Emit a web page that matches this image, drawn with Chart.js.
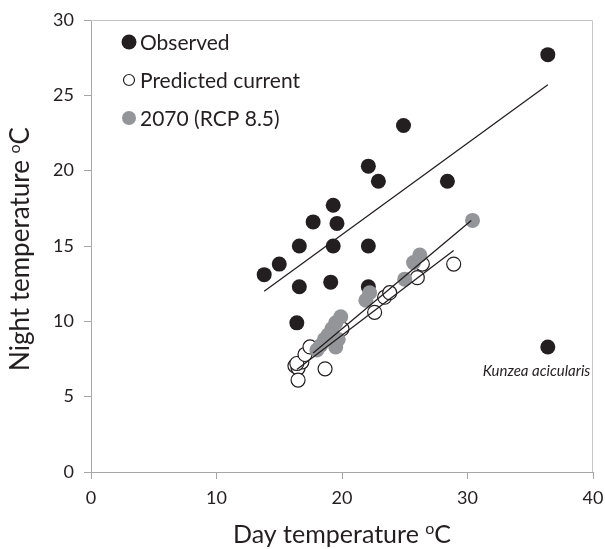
<!DOCTYPE html>
<html>
<head>
<meta charset="utf-8">
<script src="https://cdn.jsdelivr.net/npm/chart.js@4/dist/chart.umd.min.js"></script>
<style>
  body { margin: 0; background: #fff; }
  canvas { display: block; }
</style>
</head>
<body>
<canvas id="plots" width="605" height="549"></canvas>
<script>
// values
const seriesNames = ["Observed", "Predicted current", "2070 (RCP 8.5)"]

const dayObserved   = [13.8, 15.0, 16.6, 16.6, 16.4, 17.7, 19.3, 19.6, 19.3, 19.1, 22.1, 22.9, 22.1, 22.1, 24.9, 28.4, 36.4, 36.4]
const nightObserved = [13.1, 13.8, 15.0, 12.3,  9.9, 16.6, 17.7, 16.5, 15.0, 12.6, 20.3, 19.3, 15.0, 12.3, 23.0, 19.3, 27.7,  8.3]

const dayPredicted   = [16.25, 16.5, 16.8, 16.5, 16.4, 17.05, 17.45, 18.65, 20.0, 22.6, 23.4, 23.8, 26.0, 26.4, 28.9]
const nightPredicted = [ 7.05,  6.9,  7.3,  6.1,  7.2,  7.8,   8.3,   6.85,  9.5, 10.6, 11.6, 11.9, 12.9, 13.8, 13.8]

const day2070   = [18.0, 18.3, 18.6, 18.9, 19.2, 19.5, 19.9, 19.5, 19.7, 21.9, 22.2, 25.0, 25.7, 26.2, 30.4]
const night2070 = [ 8.1,  8.4,  8.8,  9.1,  9.5,  9.9, 10.3,  8.3,  8.8, 11.4, 11.9, 12.8, 13.9, 14.4, 16.7]

// trend line end points
const trendObsDay = [13.8, 36.4]
const trendObsNight = [12.0, 25.7]
const trendPredDay = [16.4, 28.9]
const trendPredNight = [6.8, 14.7]
const trend2070Day = [17.7, 30.3]
const trend2070Night = [7.9, 16.7]

const xTicks = [0, 10, 20, 30, 40]
const yTicks = [0, 5, 10, 15, 20, 25, 30]

const outlierName = "Kunzea acicularis"
const outlierAt = { x: 35.5, y: 6.4 }

const ink = '#231f20'
const grey = '#939598'
const axisGrey = '#a6a6a6'

function pts(xs, ys) {
  return xs.map((x, i) => ({ x: x, y: ys[i] }))
}

function trend(xs, ys) {
  return {
    data: pts(xs, ys),
    showLine: true,
    borderColor: ink,
    borderWidth: 1.3,
    pointRadius: 0,
    order: 0,
    isTrend: true
  }
}

// draws text with a raised small "o" before the final C
function supText(ctx, before, sup, after, cx, cy, size) {
  ctx.font = size + 'px Lato'
  const w1 = ctx.measureText(before).width
  const w3 = ctx.measureText(after).width
  ctx.font = Math.round(size * 0.62) + 'px Lato'
  const w2 = ctx.measureText(sup).width
  let x = cx - (w1 + w2 + w3) / 2
  ctx.textAlign = 'left'
  ctx.textBaseline = 'alphabetic'
  ctx.font = size + 'px Lato'
  ctx.fillText(before, x, cy)
  x += w1
  ctx.font = Math.round(size * 0.62) + 'px Lato'
  ctx.fillText(sup, x, cy - size * 0.36)
  x += w2
  ctx.font = size + 'px Lato'
  ctx.fillText(after, x, cy)
}

const extras = {
  id: 'extras',
  afterDraw(chart) {
    const ctx = chart.ctx
    const a = chart.chartArea
    const xs = chart.scales.x
    const ys = chart.scales.y
    ctx.save()

    // light frame top and right
    ctx.strokeStyle = '#c6c6c6'
    ctx.lineWidth = 1
    ctx.beginPath()
    ctx.moveTo(a.left, a.top + 0.5)
    ctx.lineTo(a.right - 0.5, a.top + 0.5)
    ctx.lineTo(a.right - 0.5, a.bottom)
    ctx.stroke()

    ctx.fillStyle = ink
    // axis titles
    supText(ctx, 'Day temperature ', 'o', 'C', (a.left + a.right) / 2, 543, 25)
    ctx.save()
    ctx.translate(29, (a.top + a.bottom) / 2 + 3)
    ctx.rotate(-Math.PI / 2)
    supText(ctx, 'Night temperature ', 'o', 'C', 0, 0, 26)
    ctx.restore()

    // legend
    const rows = [42, 80, 118]
    const mx = 129
    chart.data.datasets.filter(d => !d.isTrend).forEach((d, i) => {
      ctx.beginPath()
      ctx.arc(mx, rows[i], d.legendRadius, 0, Math.PI * 2)
      ctx.fillStyle = d.backgroundColor
      ctx.fill()
      if (d.borderWidth) {
        ctx.lineWidth = 1.2
        ctx.strokeStyle = d.borderColor
        ctx.stroke()
      }
      ctx.fillStyle = ink
      ctx.font = '21px Lato'
      ctx.textAlign = 'left'
      ctx.textBaseline = 'middle'
      ctx.fillText(d.label, 140, rows[i] + 1)
    })

    // outlier name
    ctx.font = 'italic 15px Lato'
    ctx.textAlign = 'center'
    ctx.textBaseline = 'alphabetic'
    ctx.fillStyle = ink
    ctx.fillText(outlierName, xs.getPixelForValue(outlierAt.x), ys.getPixelForValue(outlierAt.y))
    ctx.restore()
  }
}

const chart1 = new Chart(document.getElementById('plots'), {
  type: 'scatter',
  data: {
    datasets: [
      trend(trendObsDay, trendObsNight),
      trend(trendPredDay, trendPredNight),
      trend(trend2070Day, trend2070Night),
      {
        label: seriesNames[0],
        data: pts(dayObserved, nightObserved),
        backgroundColor: ink,
        borderWidth: 0,
        pointRadius: 7.5,
        legendRadius: 7.5,
        order: 3
      },
      {
        label: seriesNames[1],
        data: pts(dayPredicted, nightPredicted),
        backgroundColor: '#ffffff',
        borderColor: ink,
        borderWidth: 1.2,
        pointRadius: 7,
        legendRadius: 5.5,
        order: 2
      },
      {
        label: seriesNames[2],
        data: pts(day2070, night2070),
        backgroundColor: grey,
        borderWidth: 0,
        pointRadius: 7.5,
        legendRadius: 7,
        order: 1
      }
    ]
  },
  options: {
    responsive: false,
    animation: false,
    layout: { padding: { top: 20, right: 12, left: 0, bottom: 0 } },
    plugins: {
      legend: { display: false },
      tooltip: { enabled: false }
    },
    scales: {
      x: {
        min: 0,
        max: 40,
        afterBuildTicks: s => { s.ticks = xTicks.map(v => ({ value: v })) },
        afterFit: s => { s.height = 77; s.paddingLeft = 0; s.paddingRight = 0 },
        grid: { drawOnChartArea: false, tickLength: 7, color: axisGrey },
        border: { color: axisGrey },
        ticks: { color: ink, font: { family: 'Lato', size: 18 }, padding: 8, maxRotation: 0 }
      },
      y: {
        min: 0,
        max: 30,
        afterBuildTicks: s => { s.ticks = yTicks.map(v => ({ value: v })) },
        afterFit: s => { s.width = 91; s.paddingTop = 0; s.paddingBottom = 0 },
        grid: { drawOnChartArea: false, tickLength: 7, color: axisGrey },
        border: { color: axisGrey },
        ticks: { color: ink, font: { family: 'Lato', size: 18 }, padding: 10 }
      }
    }
  },
  plugins: [extras]
})
</script>
</body>
</html>
